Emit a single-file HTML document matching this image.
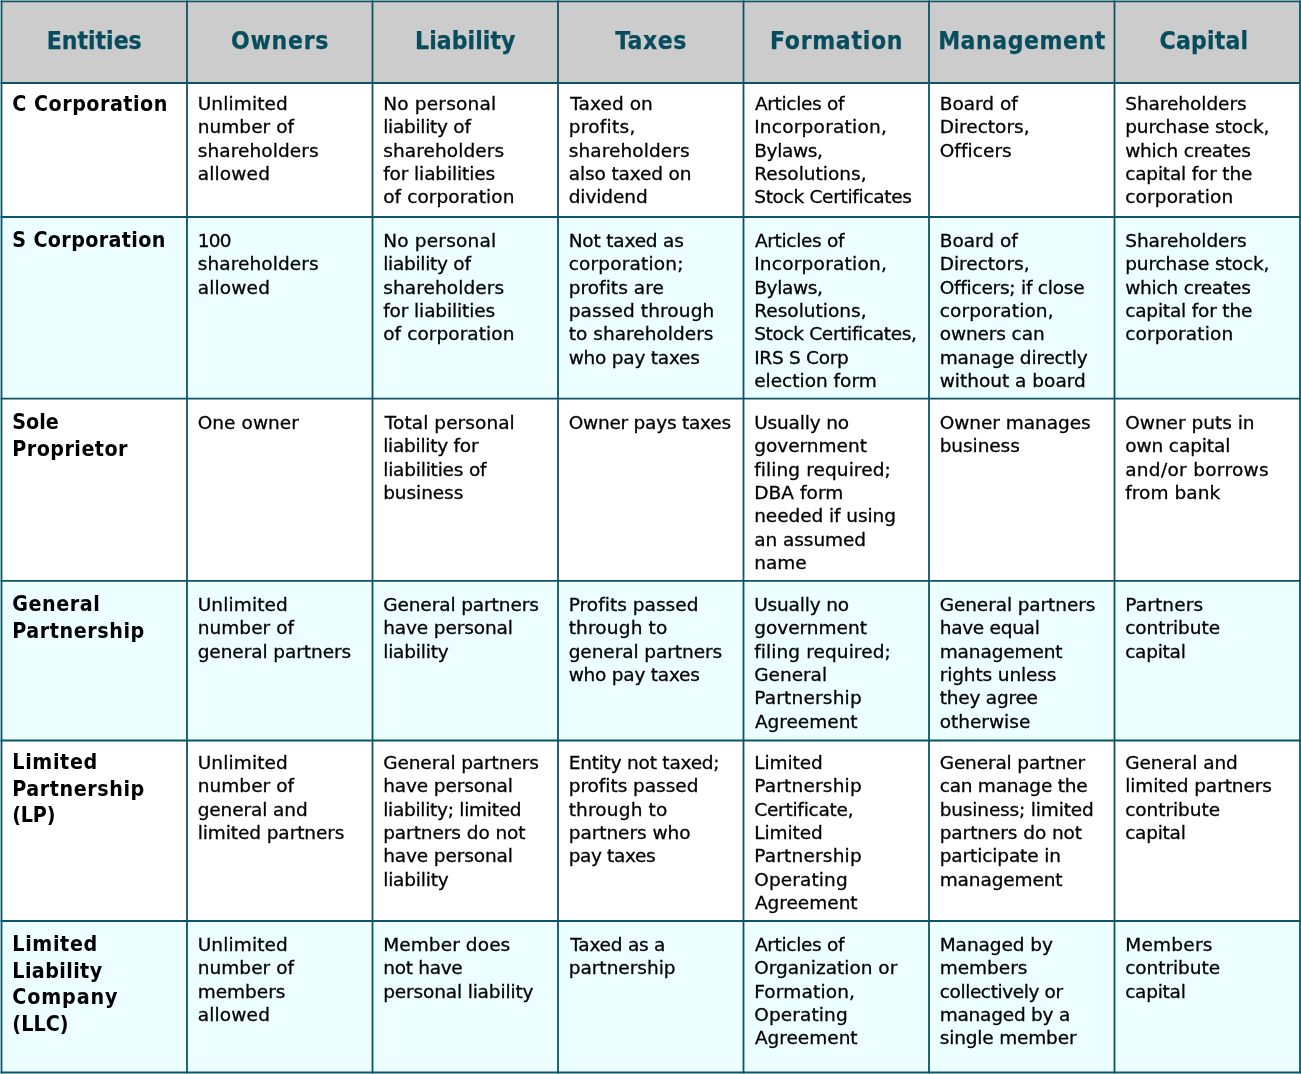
<!DOCTYPE html>
<html lang="en"><head><meta charset="utf-8"><title>Business Entities Comparison</title>
<style>
html,body{margin:0;padding:0;background:#fff}
body{width:1301px;height:1074px;overflow:hidden;position:relative;font-family:"DejaVu Sans", "Liberation Sans", sans-serif;color:#000}
svg.grid{position:absolute;left:0;top:0}
.h{position:absolute;font-stretch:condensed;-webkit-text-stroke:0.25px #074d5d;text-align:center;font-family:"DejaVu Sans Condensed", "DejaVu Sans", "Liberation Sans", sans-serif;font-weight:bold;font-size:24.5px;line-height:30px;color:#074d5d;white-space:pre;letter-spacing:0px}
.l{position:absolute;font-stretch:condensed;font-family:"DejaVu Sans Condensed", "DejaVu Sans", "Liberation Sans", sans-serif;font-weight:bold;font-size:21.3px;line-height:26.67px;white-space:pre;letter-spacing:0.45px}
.c{position:absolute;-webkit-text-stroke:0.3px #000;font-size:18.5px;line-height:23.33px;white-space:pre;letter-spacing:0px}

</style></head><body>
<svg class="grid" width="1301" height="1074" viewBox="0 0 1301 1074"><rect x="1.5" y="1.3" width="1298.5" height="81.7" fill="#cccccc"/><rect x="1.5" y="217" width="1298.5" height="181.7" fill="#ecfeff"/><rect x="1.5" y="580.8" width="1298.5" height="159.7" fill="#ecfeff"/><rect x="1.5" y="921" width="1298.5" height="151.5" fill="#ecfeff"/><g stroke="#0c5464" stroke-width="1.8" fill="none"><line x1="1.5" y1="0.4" x2="1.5" y2="1073.4"/><line x1="187.0" y1="0.4" x2="187.0" y2="1073.4"/><line x1="372.5" y1="0.4" x2="372.5" y2="1073.4"/><line x1="558.0" y1="0.4" x2="558.0" y2="1073.4"/><line x1="743.5" y1="0.4" x2="743.5" y2="1073.4"/><line x1="929.0" y1="0.4" x2="929.0" y2="1073.4"/><line x1="1114.5" y1="0.4" x2="1114.5" y2="1073.4"/><line x1="1300.0" y1="0.4" x2="1300.0" y2="1073.4"/><line x1="0.6" y1="1.3" x2="1300.9" y2="1.3"/><line x1="0.6" y1="83" x2="1300.9" y2="83"/><line x1="0.6" y1="217" x2="1300.9" y2="217"/><line x1="0.6" y1="398.7" x2="1300.9" y2="398.7"/><line x1="0.6" y1="580.8" x2="1300.9" y2="580.8"/><line x1="0.6" y1="740.5" x2="1300.9" y2="740.5"/><line x1="0.6" y1="921" x2="1300.9" y2="921"/><line x1="0.6" y1="1072.5" x2="1300.9" y2="1072.5"/></g></svg>
<div class="h" style="left:-5.75px;width:200px;top:26px;letter-spacing:0.0px">Entities</div>
<div class="h" style="left:180.1px;width:200px;top:26px;letter-spacing:0.7px">Owners</div>
<div class="h" style="left:365.29px;width:200px;top:26px;letter-spacing:0.07px">Liability</div>
<div class="h" style="left:551.0px;width:200px;top:26px;letter-spacing:0.5px">Taxes</div>
<div class="h" style="left:736.6px;width:200px;top:26px;letter-spacing:0.7px">Formation</div>
<div class="h" style="left:922.02px;width:200px;top:26px;letter-spacing:0.55px">Management</div>
<div class="h" style="left:1103.96px;width:200px;top:26px;letter-spacing:0.22px">Capital</div>
<div class="l" style="left:12.3px;top:91.1px"><span style="letter-spacing:0.49px">C Corporation</span></div>
<div class="c" style="left:197.7px;top:91.9px"><span style="letter-spacing:0.125px;">Unlimited</span><br><span style="letter-spacing:0.065px;">number of</span><br><span style="letter-spacing:0.1px;">shareholders</span><br><span style="letter-spacing:0.168px;">allowed</span></div>
<div class="c" style="left:383.2px;top:91.9px"><span style="letter-spacing:0.2px;">No personal</span><br><span style="letter-spacing:-0.271px;">liability of</span><br><span style="letter-spacing:0.1px;">shareholders</span><br><span style="letter-spacing:-0.107px;">for liabilities</span><br><span style="letter-spacing:0.078px;">of corporation</span></div>
<div class="c" style="left:568.7px;top:91.9px"><span style="letter-spacing:0.072px;margin-left:1.6px;">Taxed on</span><br><span style="letter-spacing:0.285px;">profits,</span><br><span style="letter-spacing:0.1px;">shareholders</span><br><span style="letter-spacing:-0.125px;">also taxed on</span><br><span style="letter-spacing:-0.071px;">dividend</span></div>
<div class="c" style="left:754.2px;top:91.9px"><span style="letter-spacing:-0.3px;margin-left:0.7px;">Articles of</span><br><span style="letter-spacing:0.231px;">Incorporation,</span><br><span style="letter-spacing:-0.334px;">Bylaws,</span><br><span style="letter-spacing:0.024px;">Resolutions,</span><br><span style="letter-spacing:-0.295px;">Stock Certificates</span></div>
<div class="c" style="left:939.7px;top:91.9px"><span style="letter-spacing:0.001px;">Board of</span><br>Directors,<br><span style="letter-spacing:0.071px;">Officers</span></div>
<div class="c" style="left:1125.2px;top:91.9px"><span style="letter-spacing:-0.046px;">Shareholders</span><br><span style="letter-spacing:-0.107px;">purchase stock,</span><br><span style="letter-spacing:-0.21px;">which creates</span><br><span style="letter-spacing:-0.178px;">capital for the</span><br><span style="letter-spacing:0.15px;">corporation</span></div>
<div class="l" style="left:12.3px;top:227.0px"><span style="letter-spacing:0.34px">S Corporation</span></div>
<div class="c" style="left:197.7px;top:228.9px"><span style="letter-spacing:-0.75px;">100</span><br><span style="letter-spacing:0.1px;">shareholders</span><br><span style="letter-spacing:0.168px;">allowed</span></div>
<div class="c" style="left:383.2px;top:228.9px"><span style="letter-spacing:0.2px;">No personal</span><br><span style="letter-spacing:-0.271px;">liability of</span><br><span style="letter-spacing:0.1px;">shareholders</span><br><span style="letter-spacing:-0.107px;">for liabilities</span><br><span style="letter-spacing:0.078px;">of corporation</span></div>
<div class="c" style="left:568.7px;top:228.9px"><span style="letter-spacing:-0.183px;">Not taxed as</span><br><span style="letter-spacing:0.181px;">corporation;</span><br><span style="letter-spacing:0.05px;">profits are</span><br><span style="letter-spacing:0.114px;">passed through</span><br><span style="letter-spacing:0.036px;">to shareholders</span><br><span style="letter-spacing:-0.229px;">who pay taxes</span></div>
<div class="c" style="left:754.2px;top:228.9px"><span style="letter-spacing:-0.3px;margin-left:0.7px;">Articles of</span><br><span style="letter-spacing:0.231px;">Incorporation,</span><br><span style="letter-spacing:-0.334px;">Bylaws,</span><br><span style="letter-spacing:0.024px;">Resolutions,</span><br><span style="letter-spacing:-0.334px;">Stock Certificates,</span><br><span style="letter-spacing:-0.277px;">IRS S Corp</span><br><span style="letter-spacing:-0.001px;">election form</span></div>
<div class="c" style="left:939.7px;top:228.9px"><span style="letter-spacing:0.001px;">Board of</span><br>Directors,<br><span style="letter-spacing:-0.235px;">Officers; if close</span><br><span style="letter-spacing:0.137px;">corporation,</span><br><span style="letter-spacing:-0.11px;">owners can</span><br><span style="letter-spacing:-0.178px;">manage directly</span><br><span style="letter-spacing:-0.001px;">without a board</span></div>
<div class="c" style="left:1125.2px;top:228.9px"><span style="letter-spacing:-0.046px;">Shareholders</span><br><span style="letter-spacing:-0.107px;">purchase stock,</span><br><span style="letter-spacing:-0.21px;">which creates</span><br><span style="letter-spacing:-0.178px;">capital for the</span><br><span style="letter-spacing:0.15px;">corporation</span></div>
<div class="l" style="left:12.3px;top:409.0px"><span style="letter-spacing:-0.02px">Sole</span><br>Proprietor</div>
<div class="c" style="left:197.7px;top:410.9px"><span style="letter-spacing:0.065px;">One owner</span></div>
<div class="c" style="left:383.2px;top:410.9px"><span style="letter-spacing:0.076px;margin-left:1.6px;">Total personal</span><br><span style="letter-spacing:-0.249px;">liability for</span><br><span style="letter-spacing:-0.193px;">liabilities of</span><br><span style="letter-spacing:-0.071px;">business</span></div>
<div class="c" style="left:568.7px;top:410.9px"><span style="letter-spacing:-0.232px;">Owner pays taxes</span></div>
<div class="c" style="left:754.2px;top:410.9px"><span style="letter-spacing:-0.165px;">Usually no</span><br><span style="letter-spacing:0.002px;">government</span><br><span style="letter-spacing:0.101px;">filing required;</span><br><span style="letter-spacing:0.07px;">DBA form</span><br><span style="letter-spacing:-0.071px;">needed if using</span><br><span style="letter-spacing:-0.057px;">an assumed</span><br>name</div>
<div class="c" style="left:939.7px;top:410.9px"><span style="letter-spacing:-0.041px;">Owner manages</span><br><span style="letter-spacing:-0.071px;">business</span></div>
<div class="c" style="left:1125.2px;top:410.9px"><span style="letter-spacing:0.001px;">Owner puts in</span><br><span style="letter-spacing:-0.1px;">own capital</span><br><span style="letter-spacing:0.308px;">and/or borrows</span><br><span style="letter-spacing:0.065px;">from bank</span></div>
<div class="l" style="left:12.3px;top:591.0px"><span style="letter-spacing:0.55px">General</span><br><span style="letter-spacing:0.55px">Partnership</span></div>
<div class="c" style="left:197.7px;top:592.9px"><span style="letter-spacing:0.125px;">Unlimited</span><br><span style="letter-spacing:0.065px;">number of</span><br><span style="letter-spacing:-0.066px;">general partners</span></div>
<div class="c" style="left:383.2px;top:592.9px"><span style="letter-spacing:-0.095px;">General partners</span><br><span style="letter-spacing:-0.125px;">have personal</span><br><span style="letter-spacing:-0.185px;">liability</span></div>
<div class="c" style="left:568.7px;top:592.9px"><span style="letter-spacing:0.04px;">Profits passed</span><br><span style="letter-spacing:0.168px;">through to</span><br><span style="letter-spacing:-0.066px;">general partners</span><br><span style="letter-spacing:-0.229px;">who pay taxes</span></div>
<div class="c" style="left:754.2px;top:592.9px"><span style="letter-spacing:-0.165px;">Usually no</span><br><span style="letter-spacing:0.002px;">government</span><br><span style="letter-spacing:0.101px;">filing required;</span><br><span style="letter-spacing:0.001px;">General</span><br><span style="letter-spacing:0.2px;">Partnership</span><br><span style="margin-left:0.7px;">Agreement</span></div>
<div class="c" style="left:939.7px;top:592.9px"><span style="letter-spacing:-0.095px;">General partners</span><br><span style="letter-spacing:-0.278px;">have equal</span><br><span style="letter-spacing:-0.11px;">management</span><br><span style="letter-spacing:-0.125px;">rights unless</span><br><span style="letter-spacing:-0.222px;">they agree</span><br>otherwise</div>
<div class="c" style="left:1125.2px;top:592.9px"><span style="letter-spacing:0.144px;">Partners</span><br><span style="letter-spacing:-0.054px;">contribute</span><br><span style="letter-spacing:-0.25px;">capital</span></div>
<div class="l" style="left:12.3px;top:749.0px"><span style="letter-spacing:0.63px">Limited</span><br><span style="letter-spacing:0.55px">Partnership</span><br><span style="letter-spacing:-0.22px">(LP)</span></div>
<div class="c" style="left:197.7px;top:750.9px"><span style="letter-spacing:0.125px;">Unlimited</span><br><span style="letter-spacing:0.065px;">number of</span><br><span style="letter-spacing:-0.1px;">general and</span><br><span style="letter-spacing:-0.084px;">limited partners</span></div>
<div class="c" style="left:383.2px;top:750.9px"><span style="letter-spacing:-0.095px;">General partners</span><br><span style="letter-spacing:-0.125px;">have personal</span><br><span style="letter-spacing:-0.266px;">liability; limited</span><br><span style="letter-spacing:-0.072px;">partners do not</span><br><span style="letter-spacing:-0.125px;">have personal</span><br><span style="letter-spacing:-0.185px;">liability</span></div>
<div class="c" style="left:568.7px;top:750.9px"><span style="letter-spacing:-0.218px;">Entity not taxed;</span><br><span style="letter-spacing:-0.037px;">profits passed</span><br><span style="letter-spacing:0.168px;">through to</span><br><span style="letter-spacing:-0.047px;">partners who</span><br><span style="letter-spacing:-0.375px;">pay taxes</span></div>
<div class="c" style="left:754.2px;top:750.9px"><span style="letter-spacing:-0.083px;">Limited</span><br><span style="letter-spacing:0.2px;">Partnership</span><br><span style="letter-spacing:-0.228px;">Certificate,</span><br><span style="letter-spacing:-0.083px;">Limited</span><br><span style="letter-spacing:0.2px;">Partnership</span><br><span style="letter-spacing:0.126px;">Operating</span><br><span style="margin-left:0.7px;">Agreement</span></div>
<div class="c" style="left:939.7px;top:750.9px"><span style="letter-spacing:-0.142px;">General partner</span><br><span style="letter-spacing:-0.232px;">can manage the</span><br><span style="letter-spacing:-0.156px;">business; limited</span><br><span style="letter-spacing:-0.072px;">partners do not</span><br><span style="letter-spacing:-0.116px;">participate in</span><br><span style="letter-spacing:-0.11px;">management</span></div>
<div class="c" style="left:1125.2px;top:750.9px"><span style="letter-spacing:-0.1px;">General and</span><br><span style="letter-spacing:-0.084px;">limited partners</span><br><span style="letter-spacing:-0.054px;">contribute</span><br><span style="letter-spacing:-0.25px;">capital</span></div>
<div class="l" style="left:12.3px;top:931.0px"><span style="letter-spacing:0.63px">Limited</span><br><span style="letter-spacing:0.39px">Liability</span><br><span style="letter-spacing:0.87px">Company</span><br><span style="letter-spacing:0.08px">(LLC)</span></div>
<div class="c" style="left:197.7px;top:932.9px"><span style="letter-spacing:0.125px;">Unlimited</span><br><span style="letter-spacing:0.065px;">number of</span><br>members<br><span style="letter-spacing:0.168px;">allowed</span></div>
<div class="c" style="left:383.2px;top:932.9px"><span style="letter-spacing:0.1px;">Member does</span><br><span style="letter-spacing:-0.286px;">not have</span><br><span style="letter-spacing:-0.147px;">personal liability</span></div>
<div class="c" style="left:568.7px;top:932.9px"><span style="letter-spacing:-0.224px;margin-left:1.6px;">Taxed as a</span><br>partnership</div>
<div class="c" style="left:754.2px;top:932.9px"><span style="letter-spacing:-0.3px;margin-left:0.7px;">Articles of</span><br><span style="letter-spacing:-0.001px;">Organization or</span><br><span style="letter-spacing:0.167px;">Formation,</span><br><span style="letter-spacing:0.126px;">Operating</span><br><span style="margin-left:0.7px;">Agreement</span></div>
<div class="c" style="left:939.7px;top:932.9px"><span style="letter-spacing:-0.054px;">Managed by</span><br>members<br><span style="letter-spacing:-0.393px;">collectively or</span><br><span style="letter-spacing:-0.226px;">managed by a</span><br><span style="letter-spacing:-0.166px;">single member</span></div>
<div class="c" style="left:1125.2px;top:932.9px"><span style="letter-spacing:0.251px;">Members</span><br><span style="letter-spacing:-0.054px;">contribute</span><br><span style="letter-spacing:-0.25px;">capital</span></div>
</body></html>
